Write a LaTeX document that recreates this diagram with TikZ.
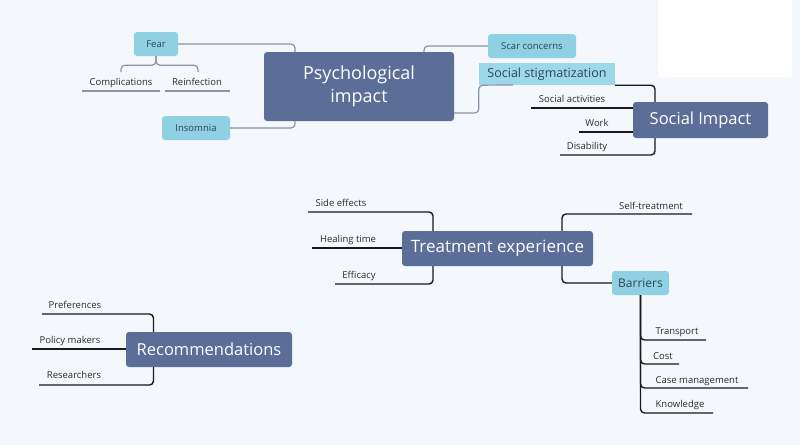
\documentclass[tikz,border=0pt]{standalone}
\usepackage{fontspec}
\setmainfont{Open Sans}
\usepackage{xcolor}
\usetikzlibrary{positioning}
\definecolor{bgblue}{HTML}{F4F8FC}
\definecolor{mainblue}{HTML}{5A6E98}
\definecolor{subblue}{HTML}{8FD0E3}
\definecolor{stigblue}{HTML}{9DD8EA}
\definecolor{subtext}{HTML}{2E4656}
\definecolor{leaftext}{HTML}{2B2B2B}
\definecolor{linegray}{HTML}{8A94A5}
\tikzstyle{topic} = [rectangle, rounded corners=3pt, fill=mainblue, text=white, align=center, inner sep=0pt, font=\fontsize{16.5}{20}\selectfont]
\tikzstyle{sub} = [rectangle, rounded corners=3pt, fill=subblue, text=subtext, inner sep=0pt, font=\fontsize{9.5}{11}\selectfont]
\tikzstyle{leaf} = [anchor=base, inner sep=0pt, text=leaftext, font=\fontsize{9.5}{11}\selectfont]
\tikzstyle{grayline} = [draw=linegray, line width=1.2pt, rounded corners=4pt]
\tikzstyle{blackline} = [draw=black!90, line width=1.4pt, rounded corners=4pt]

\begin{document}
\begin{tikzpicture}[x=1pt, y=-1pt]
  \fill[bgblue] (0,0) rectangle (800,445);
  \fill[white] (658,0) rectangle (792,77);
  \useasboundingbox (0,0) rectangle (800,445);
  % nodes
    \node (psych) [topic, minimum width=190pt, minimum height=69pt, font=\fontsize{18}{23}\selectfont] at (359,86.5) {Psychological\\impact};
    \node (fear) [sub, minimum width=44pt, minimum height=24pt] at (156,44) {Fear};
    \node (insomnia) [sub, minimum width=68pt, minimum height=24pt] at (196,128) {Insomnia};
    \node (scar) [sub, minimum width=88pt, minimum height=24pt] at (532,46) {Scar concerns};
    \node (stigma) [sub, rounded corners=0pt, fill=stigblue, minimum width=136pt, minimum height=22pt, font=\fontsize{12.5}{14}\selectfont] at (547,74) {Social stigmatization};
    \node (compl) [leaf] at (121,85) {Complications};
    \node (reinf) [leaf] at (197,85) {Reinfection};
    \node (social) [topic, minimum width=135pt, minimum height=36pt] at (700.5,120) {Social Impact};
    \node (activities) [leaf] at (572,102) {Social activities};
    \node (work) [leaf] at (597,126) {Work};
    \node (disab) [leaf] at (587,149) {Disability};
    \node (treat) [topic, minimum width=191pt, minimum height=35pt, font=\fontsize{17}{20}\selectfont] at (497.5,248.5) {Treatment experience};
    \node (sidefx) [leaf] at (341,206) {Side effects};
    \node (healing) [leaf] at (348,242) {Healing time};
    \node (efficacy) [leaf] at (359,278) {Efficacy};
    \node (selftreat) [leaf] at (651,209) {Self-treatment};
    \node (barriers) [sub, minimum width=57pt, minimum height=24pt, font=\fontsize{12}{14}\selectfont] at (640.5,283) {Barriers};
    \node (transport) [leaf] at (677,334) {Transport};
    \node (cost) [leaf] at (663,359) {Cost};
    \node (casemgmt) [leaf] at (697,383) {Case management};
    \node (knowledge) [leaf] at (680,407) {Knowledge};
    \node (recomm) [topic, minimum width=166pt, minimum height=35pt] at (209,349.5) {Recommendations};
    \node (prefs) [leaf] at (75,308) {Preferences};
    \node (policy) [leaf] at (70,343) {Policy makers};
    \node (research) [leaf] at (74,378) {Researchers};
  % line ends
    \coordinate (compl-l) at (82,91);
    \coordinate (compl-r) at (160,91);
    \coordinate (reinf-l) at (165,91);
    \coordinate (reinf-r) at (230,91);
    \coordinate (compl-top) at (121,72);
    \coordinate (reinf-top) at (198,72);
    \coordinate (stigma-line) at (513,85);
    \coordinate (activities-l) at (531,108);
    \coordinate (work-l) at (579,132);
    \coordinate (disab-l) at (560,155);
    \coordinate (sidefx-l) at (308,212);
    \coordinate (healing-l) at (312,248);
    \coordinate (efficacy-l) at (335,284);
    \coordinate (selftreat-r) at (692,214);
    \coordinate (transport-r) at (706,340);
    \coordinate (cost-r) at (679,364);
    \coordinate (casemgmt-r) at (748,388);
    \coordinate (knowledge-r) at (713,413);
    \coordinate (prefs-l) at (42,314);
    \coordinate (policy-l) at (32,349);
    \coordinate (research-l) at (39,385);
  % lines
    \draw [grayline] (fear.east) -| ([xshift=-64pt]psych.north);
    \draw [grayline] (insomnia.east) -| ([xshift=-64pt]psych.south);
    \draw [grayline] (scar.west) -| ([xshift=65pt]psych.north);
    \draw [grayline] ([yshift=-26.5pt]psych.east) -| (stigma.south west) -- (stigma-line);
    \draw [grayline] (fear.south) -- ++(0,9) -| (compl-top);
    \draw [grayline] (fear.south) -- ++(0,9) -| (reinf-top);
    \draw [grayline] (compl-l) -- (compl-r);
    \draw [grayline] (reinf-l) -- (reinf-r);
    \draw [blackline] (stigma.south east) -| ([xshift=-45.5pt]social.north);
    \draw [blackline] (disab-l) -| ([xshift=-45.5pt]social.south);
    \draw [blackline] (activities-l) -- (activities-l -| social.west);
    \draw [blackline] (work-l) -- (work-l -| social.west);
    \draw [blackline] (sidefx-l) -| ([xshift=-64.5pt]treat.north);
    \draw [blackline] (efficacy-l) -| ([xshift=-64.5pt]treat.south);
    \draw [blackline] (healing-l) -- (healing-l -| treat.west);
    \draw [blackline] (selftreat-r) -| ([xshift=64.5pt]treat.north);
    \draw [blackline] ([xshift=64.5pt]treat.south) |- (barriers.west);
    \draw [blackline] (barriers.south) |- (transport-r);
    \draw [blackline] (barriers.south) |- (cost-r);
    \draw [blackline] (barriers.south) |- (casemgmt-r);
    \draw [blackline] (barriers.south) |- (knowledge-r);
    \draw [blackline] (prefs-l) -| ([xshift=-55.5pt]recomm.north);
    \draw [blackline] (research-l) -| ([xshift=-55.5pt]recomm.south);
    \draw [blackline] (policy-l) -- (policy-l -| recomm.west);
\end{tikzpicture}
\end{document}
